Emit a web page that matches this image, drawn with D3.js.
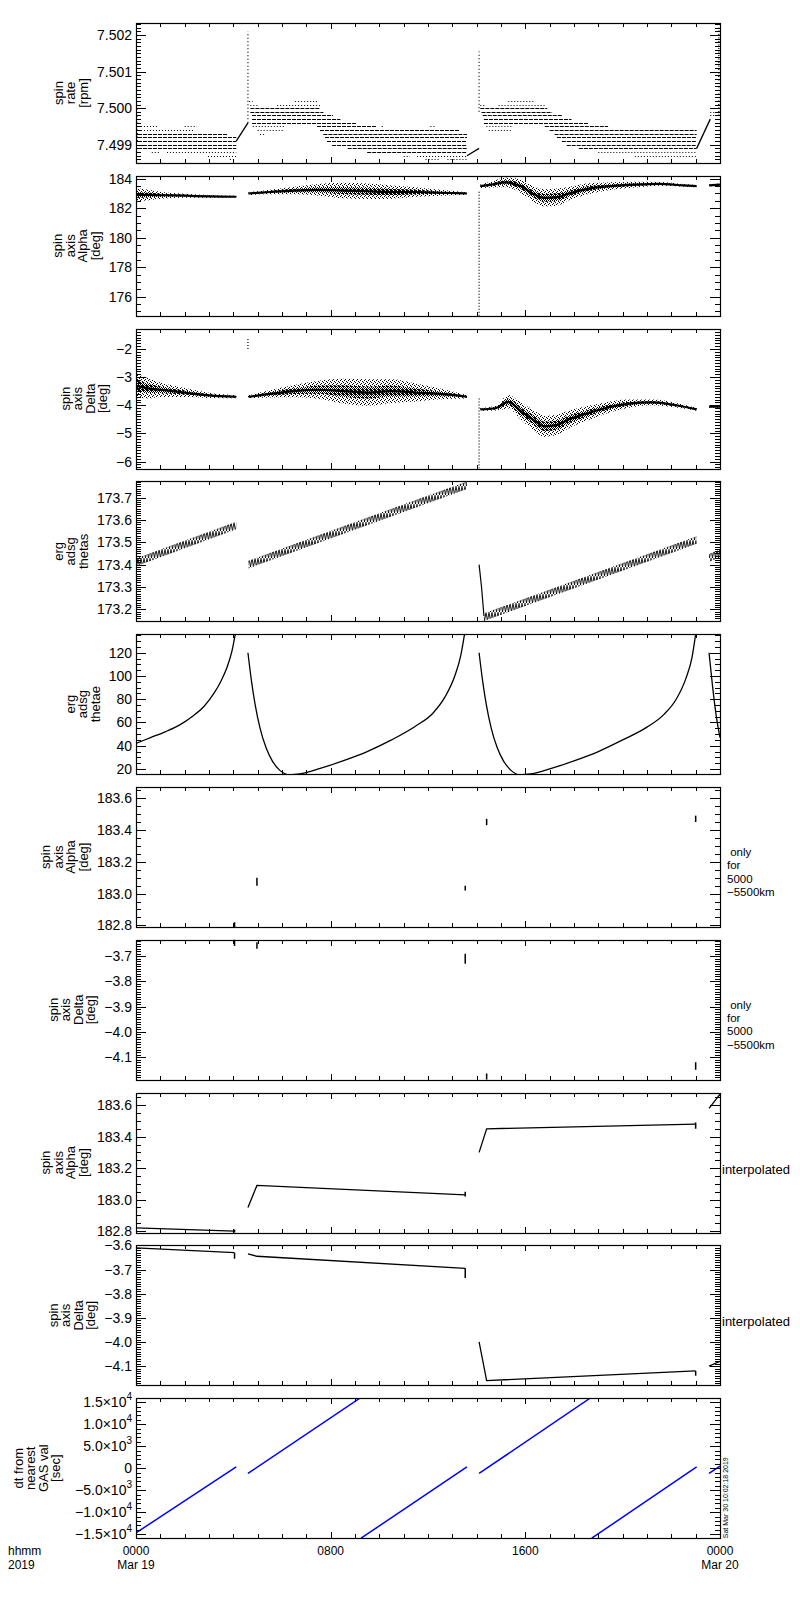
<!DOCTYPE html>
<html>
<head>
<meta charset="utf-8">
<script src="https://cdn.jsdelivr.net/npm/d3@7"></script>
<style>
body { margin: 0; background: #fff; }
text { font-family: "Liberation Sans", Arial, sans-serif; fill: #000; }
</style>
</head>
<body>
<script>
// time axis: hours from 0000 Mar 19
var timeTicks = [0, 8, 16, 24];
var timeLabels = ['0000', '0800', '1600', '0000'];
var dateLabels = ['Mar 19', '', '', 'Mar 20'];

// spin rate: quantised levels drawn as dotted runs [level, t0, t1, dense]
var rateBands = [
    [7.4995,0.08,0.9,0],[7.4995,2.0,2.5,0],[7.4994,0.08,2.4,0],[7.4993,0.08,3.75,1],
    [7.4992,0.08,4.12,1],[7.4991,0.08,4.12,1],[7.4990,0.08,4.12,1],[7.4989,0.08,4.12,1],
    [7.4988,0.65,1.0,0],[7.4988,1.27,4.12,0],[7.4987,2.96,4.12,0],[7.4986,3.86,4.03,0],
    [7.5002,6.54,7.44,0],[7.5002,4.65,4.8,0],[7.5001,5.8,7.56,0],[7.5001,4.7,5.0,0],
    [7.5000,4.7,7.56,1],[7.4999,4.7,7.7,1],[7.4998,4.77,8.1,1],[7.4997,4.77,8.4,1],[7.4996,4.77,9.08,1],
    [7.4995,4.8,6.1,0],[7.4995,7.44,9.9,1],[7.4995,10.1,10.2,0],[7.4995,12.1,12.3,0],
    [7.4994,5.0,6.1,0],[7.4994,7.56,13.3,1],[7.4993,5.1,5.3,0],[7.4993,7.7,13.6,1],
    [7.4992,7.77,13.6,1],[7.4991,7.85,13.6,1],[7.4990,8.06,13.6,1],[7.4989,8.7,13.6,1],[7.4988,9.5,13.6,1],
    [7.4987,11.0,11.26,0],[7.4987,11.55,13.6,0],[7.4986,11.9,12.5,0],[7.4986,12.8,13.6,0],
    [7.5002,15.3,16.4,0],[7.5001,14.15,14.4,0],[7.5001,14.9,16.8,0],
    [7.5000,14.15,16.9,1],[7.4999,14.2,17.1,1],[7.4998,14.25,17.5,1],[7.4997,14.3,17.9,1],[7.4996,14.3,18.6,1],
    [7.4995,14.4,15.5,0],[7.4995,16.8,19.4,1],[7.4994,14.5,15.4,0],[7.4994,17.0,23.04,1],
    [7.4993,17.2,23.04,1],[7.4992,17.3,23.04,1],[7.4991,17.5,23.04,1],[7.4990,17.7,23.04,1],
    [7.4989,18.2,23.04,1],[7.4988,19.0,23.04,0],[7.4987,20.5,23.04,0],
    [7.4998,23.6,24,0],[7.4999,23.6,24,0],[7.5000,23.7,24,0]
];
var rateRamps = [
    [[4.12,7.4991],[4.6,7.4996]],
    [[13.6,7.4987],[14.1,7.4989]],
    [[23.04,7.4989],[23.6,7.4997]]
];
// vertical dotted runs [t, v0, v1]
var rateSpikes = [[0.05,7.4991,7.5000],[4.6,7.4996,7.5021],[14.1,7.4999,7.50155],[23.95,7.4998,7.5022]];

// spin axis alpha / delta scatter: [t, centre, half spread]
var alphaSegs = [
    [[0,182.9,0.45],[0.5,182.9,0.36],[1,182.88,0.24],[2,182.85,0.14],[3,182.8,0.09],[4.12,182.78,0.06]],
    [[4.62,183.0,0.1],[5.5,183.1,0.16],[6.5,183.2,0.26],[7.5,183.25,0.4],[8.5,183.2,0.52],[9.5,183.15,0.52],
     [10.5,183.1,0.45],[11.5,183.1,0.33],[12.5,183.05,0.2],[13.6,183.0,0.08]],
    [[14.15,183.5,0.13],[14.6,183.6,0.2],[15.2,183.75,0.33],[15.8,183.5,0.45],[16.3,183.0,0.52],[16.8,182.7,0.58],
     [17.3,182.75,0.58],[17.8,183.0,0.45],[18.5,183.3,0.38],[19.5,183.5,0.26],[20.5,183.6,0.2],[21.5,183.65,0.13],
     [22.5,183.55,0.09],[23.04,183.5,0.07]],
    [[23.55,183.55,0.07],[24,183.6,0.07]]
];
var alphaDrops = [[14.1,174.7,183.2]];
var deltaSegs = [
    [[0,-3.3,0.42],[0.5,-3.4,0.36],[1,-3.45,0.26],[2,-3.55,0.16],[3,-3.65,0.09],[4.12,-3.7,0.05]],
    [[4.62,-3.7,0.05],[5.5,-3.6,0.13],[6.5,-3.5,0.22],[7.5,-3.45,0.32],[8.5,-3.5,0.44],[9.5,-3.55,0.47],
     [10.5,-3.5,0.42],[11.5,-3.55,0.32],[12.5,-3.6,0.19],[13.6,-3.7,0.06]],
    [[14.15,-4.15,0.05],[14.8,-4.1,0.09],[15.3,-3.88,0.24],[15.8,-4.2,0.3],[16.3,-4.5,0.36],[16.8,-4.75,0.37],
     [17.3,-4.7,0.36],[17.8,-4.5,0.31],[18.5,-4.3,0.26],[19.3,-4.1,0.2],[20.2,-3.95,0.15],[21.2,-3.9,0.1],
     [22.2,-4.0,0.08],[23.04,-4.15,0.05]],
    [[23.55,-4.05,0.04],[24,-4.05,0.04]]
];
var deltaDrops = [[14.1,-6.25,-3.7],[4.6,-2.0,-1.6]];

// erg adsg thetas (centre of the zigzag band) and thetae
var thetasSegs = [
    [[0,173.41],[4.12,173.575]],
    [[4.62,173.40],[13.6,173.755]],
    [[14.3,173.165],[23.04,173.51]],
    [[23.55,173.43],[24,173.45]]
];
var thetasDrop = [[14.1,173.40],[14.2,173.3],[14.3,173.17]];
var thetaeSegs = [
    [[0,42],[0.6,47],[1.2,52],[1.8,58],[2.3,65],[2.8,74],[3.2,85],[3.5,96],[3.75,108],[3.95,122],[4.08,136]],
    [[4.6,120],[4.75,95],[4.9,75],[5.1,55],[5.35,38],[5.6,27],[5.9,19],[6.3,15],[6.8,16],[7.5,20],[8.5,27],
     [9.5,35],[10.5,45],[11.5,57],[12.2,68],[12.7,82],[13.1,100],[13.35,118],[13.5,136]],
    [[14.1,120],[14.25,95],[14.4,75],[14.6,55],[14.85,38],[15.1,27],[15.4,19],[15.75,15],[16.3,16],[17,20],
     [18,27],[19,35],[20,45],[21,56],[21.7,67],[22.2,80],[22.6,98],[22.85,116],[23.0,136]],
    [[23.55,120],[23.7,90],[23.85,65],[24,47]]
];

// values only for 5000-5500 km: short vertical runs [t, v0, v1]
var alphaOnly = [[4.05,182.79,182.82],[4.97,183.05,183.10],[13.53,183.02,183.05],[14.41,183.43,183.47],[23.0,183.45,183.49]];
var deltaOnly = [[4.05,-3.63,-3.66],[4.97,-3.645,-3.67],[13.53,-3.69,-3.73],[14.41,-4.165,-4.19],[23.0,-4.12,-4.15]];

// interpolated
var alphaIntLines = [
    [[0,182.82],[4.05,182.80]],
    [[4.6,182.95],[4.97,183.09],[13.53,183.03]],
    [[14.1,183.30],[14.41,183.45],[23.0,183.48]],
    [[23.55,183.58],[24,183.67]]
];
var alphaIntMarks = [[4.05,182.78,182.81],[13.53,183.02,183.05],[23.0,183.45,183.49]];
var deltaIntLines = [
    [[0,-3.61],[4.05,-3.63]],
    [[4.6,-3.635],[4.97,-3.645],[13.53,-3.695]],
    [[14.1,-4.0],[14.41,-4.16],[23.0,-4.12]],
    [[23.55,-4.10],[24,-4.08]]
];
var deltaIntMarks = [[4.05,-3.63,-3.655],[13.53,-3.695,-3.735],[23.0,-4.12,-4.14]];

// dt from nearest GAS value [sec]
var dtSegs = [
    [[0,-14700],[4.12,300]],
    [[4.6,-1200],[9.2,15900]],
    [[9.25,-15900],[13.6,300]],
    [[14.1,-1200],[18.66,15900]],
    [[18.73,-15900],[23.04,300]],
    [[23.55,-1200],[24,500]]
];

var stamp = 'Sat Mar 30 10:02:18 2019';

var sciFmt = function(v){
    if (v === 0) return ['0', ''];
    var e = Math.floor(Math.log10(Math.abs(v)) + 1e-9);
    var m = Math.abs(v) / Math.pow(10, e);
    return [(v < 0 ? '\u2212' : '') + m.toFixed(1) + '\u00d710', String(e)];
};
var fmtMinus = function(f){ return function(v){ return [d3.format(f)(v), '']; }; };

var panels = [
    {key:'rate', title:['spin','rate','[rpm]'], domain:[7.4985,7.50233], major:0.001, minor:0.0001, fmt:fmtMinus('.3f')},
    {key:'alpha', title:['spin','axis','Alpha','[deg]'], domain:[174.7,184.2], major:2, minor:0.5, fmt:fmtMinus('d')},
    {key:'delta', title:['spin','axis','Delta','[deg]'], domain:[-6.25,-1.28], major:1, minor:0.1, fmt:fmtMinus('d')},
    {key:'thetas', title:['erg','adsg','thetas'], domain:[173.146,173.772], major:0.1, minor:0.01, fmt:fmtMinus('.1f')},
    {key:'thetae', title:['erg','adsg','thetae'], domain:[15.5,136], major:20, minor:5, fmt:fmtMinus('d')},
    {key:'alphaOnly', title:['spin','axis','Alpha','[deg]'], domain:[182.79,183.67], major:0.2, minor:0.05, fmt:fmtMinus('.1f'), note:[' only','for','5000','\u22125500km']},
    {key:'deltaOnly', title:['spin','axis','Delta','[deg]'], domain:[-4.19,-3.635], major:0.1, minor:0.01, fmt:fmtMinus('.1f'), note:[' only','for','5000','\u22125500km']},
    {key:'alphaInt', title:['spin','axis','Alpha','[deg]'], domain:[182.79,183.68], major:0.2, minor:0.05, fmt:fmtMinus('.1f'), note:['interpolated']},
    {key:'deltaInt', title:['spin','axis','Delta','[deg]'], domain:[-4.18,-3.60], major:0.1, minor:0.01, fmt:fmtMinus('.1f'), note:['interpolated']},
    {key:'dt', title:['dt from','nearest','GAS val','[sec]'], domain:[-15900,15900], major:5000, minor:1000, fmt:sciFmt, shift:-6}
];

var W = 800, H = 1600, L = 136, R = 720, TOP = 23, PH = 140, STEP = 152.8;

var svg = d3.select('body').append('svg').attr('width', W).attr('height', H);
svg.append('rect').attr('width', W).attr('height', H).attr('fill', '#fff');
var defs = svg.append('defs');

var light = defs.append('pattern').attr('id', 'speckLight').attr('patternUnits', 'userSpaceOnUse')
    .attr('width', 4).attr('height', 4);
[[0,0],[2,1],[1,3],[3,2]].forEach(function(p){
    light.append('rect').attr('x', p[0]).attr('y', p[1]).attr('width', 1).attr('height', 1).attr('fill', '#000');
});
var dark = defs.append('pattern').attr('id', 'speckDark').attr('patternUnits', 'userSpaceOnUse')
    .attr('width', 2).attr('height', 2);
[[0,0],[1,1]].forEach(function(p){
    dark.append('rect').attr('x', p[0]).attr('y', p[1]).attr('width', 1).attr('height', 1).attr('fill', '#000');
});
defs.append('pattern').attr('id', 'hatch').attr('patternUnits', 'userSpaceOnUse')
    .attr('width', 3).attr('height', 9)
    .append('path').attr('d', 'M0,0L1.5,9L3,0').attr('fill', 'none').attr('stroke', '#000').attr('stroke-width', 0.9);

var x = d3.scaleLinear().domain([0, 24]).range([L, R]);

function tickValues(lo, hi, step){
    var out = [];
    for (var k = Math.ceil(lo / step - 1e-6); k <= Math.floor(hi / step + 1e-6); k++) out.push(+(k * step).toFixed(6));
    return out;
}

panels.forEach(function(p, i){
    var top = TOP + i * STEP, bot = top + PH;
    var y = d3.scaleLinear().domain(p.domain).range([bot, top]);
    var g = svg.append('g');

    defs.append('clipPath').attr('id', 'clip' + i).append('rect')
        .attr('x', L).attr('y', top).attr('width', R - L).attr('height', PH);
    var d = g.append('g').attr('clip-path', 'url(#clip' + i + ')');

    var line = d3.line().x(function(v){ return x(v[0]); }).y(function(v){ return y(v[1]); });
    var vruns = function(list, dash, width, color){
        d.selectAll(null).data(list).enter().append('line')
            .attr('x1', function(v){ return x(v[0]); }).attr('x2', function(v){ return x(v[0]); })
            .attr('y1', function(v){ return y(v[1]); }).attr('y2', function(v){ return y(v[2]); })
            .attr('stroke', color || '#000').attr('stroke-width', width).attr('stroke-dasharray', dash);
    };
    var lines = function(list, width, color){
        d.selectAll(null).data(list).enter().append('path')
            .attr('d', line).attr('fill', 'none').attr('stroke', color || '#000').attr('stroke-width', width);
    };
    var cloud = function(segs){
        segs.forEach(function(s){
            var outer = d3.area().curve(d3.curveMonotoneX).x(function(v){ return x(v[0]); })
                .y0(function(v){ return y(v[1] - v[2]); }).y1(function(v){ return y(v[1] + v[2]); });
            var inner = d3.area().curve(d3.curveMonotoneX).x(function(v){ return x(v[0]); })
                .y0(function(v){ return y(v[1] - v[2] * 0.45); }).y1(function(v){ return y(v[1] + v[2] * 0.45); });
            d.append('path').attr('d', outer(s)).attr('fill', 'url(#speckLight)');
            d.append('path').attr('d', inner(s)).attr('fill', 'url(#speckDark)');
            d.append('path').attr('d', d3.line().curve(d3.curveMonotoneX)
                .x(function(v){ return x(v[0]); }).y(function(v){ return y(v[1]); })(s))
                .attr('fill', 'none').attr('stroke', '#000').attr('stroke-width', 2.2);
        });
    };

    if (p.key === 'rate'){
        d.selectAll(null).data(rateBands).enter().append('line')
            .attr('x1', function(b){ return x(b[1]); }).attr('x2', function(b){ return x(b[2]); })
            .attr('y1', function(b){ return Math.round(y(b[0])) + 0.5; })
            .attr('y2', function(b){ return Math.round(y(b[0])) + 0.5; })
            .attr('stroke', '#000').attr('stroke-width', 1)
            .attr('stroke-dasharray', function(b){ return b[3] ? '4,1' : '1,2'; });
        lines(rateRamps, 1.3);
        vruns(rateSpikes, '1,2.5', 1.2);
    } else if (p.key === 'alpha'){
        cloud(alphaSegs);
        vruns(alphaDrops, '1,2', 1.2);
    } else if (p.key === 'delta'){
        cloud(deltaSegs);
        vruns(deltaDrops, '1,2', 1.2);
    } else if (p.key === 'thetas'){
        var band = d3.area().x(function(v){ return x(v[0]); })
            .y0(function(v){ return y(v[1] - 0.017); }).y1(function(v){ return y(v[1] + 0.017); });
        thetasSegs.forEach(function(s){
            d.append('path').attr('d', band(s)).attr('fill', 'url(#hatch)');
        });
        lines([thetasDrop], 1.2);
    } else if (p.key === 'thetae'){
        d.selectAll(null).data(thetaeSegs).enter().append('path')
            .attr('d', d3.line().curve(d3.curveMonotoneX).x(function(v){ return x(v[0]); }).y(function(v){ return y(v[1]); }))
            .attr('fill', 'none').attr('stroke', '#000').attr('stroke-width', 1.3);
    } else if (p.key === 'alphaOnly'){
        vruns(alphaOnly, null, 1.5);
    } else if (p.key === 'deltaOnly'){
        vruns(deltaOnly, null, 1.5);
    } else if (p.key === 'alphaInt'){
        lines(alphaIntLines, 1.3);
        vruns(alphaIntMarks, null, 1.5);
    } else if (p.key === 'deltaInt'){
        lines(deltaIntLines, 1.3);
        vruns(deltaIntMarks, null, 1.5);
    } else if (p.key === 'dt'){
        lines(dtSegs, 1.5, '#0000ff');
    }

    // frame and ticks
    g.append('rect').attr('x', L + 0.5).attr('y', Math.round(top) + 0.5)
        .attr('width', R - L).attr('height', PH)
        .attr('fill', 'none').attr('stroke', '#000').attr('stroke-width', 1.2);

    var tk = g.append('g').attr('stroke', '#000').attr('stroke-width', 1).attr('shape-rendering', 'crispEdges');
    var majors = tickValues(p.domain[0], p.domain[1], p.major);
    var minors = tickValues(p.domain[0], p.domain[1], p.minor);
    minors.forEach(function(v){
        var len = majors.some(function(m){ return Math.abs(m - v) < p.minor / 10; }) ? 10 : 5;
        var yy = Math.round(y(v)) + 0.5;
        tk.append('line').attr('x1', L).attr('x2', L + len).attr('y1', yy).attr('y2', yy);
        tk.append('line').attr('x1', R).attr('x2', R - len).attr('y1', yy).attr('y2', yy);
    });
    d3.range(0, 25).forEach(function(h){
        var len = h % 8 === 0 ? 6 : 4;
        var xx = Math.round(x(h)) + 0.5;
        tk.append('line').attr('x1', xx).attr('x2', xx).attr('y1', top).attr('y2', top + len);
        tk.append('line').attr('x1', xx).attr('x2', xx).attr('y1', bot).attr('y2', bot - len);
    });

    var labs = g.append('g').attr('font-size', 14).attr('text-anchor', 'end');
    majors.forEach(function(v){
        var parts = p.fmt(v);
        var t = labs.append('text').attr('x', L - 4).attr('y', y(v) + 5);
        t.append('tspan').text(parts[0]);
        if (parts[1]) t.append('tspan').attr('dy', -7).attr('font-size', 10).text(parts[1]);
    });
    var minX = labs.node().getBBox().x + (p.shift || 0);

    var mid = top + PH / 2;
    var n = p.title.length, gap = 12.5;
    var title = g.append('text').attr('font-size', 13).attr('text-anchor', 'middle')
        .attr('transform', 'translate(' + (minX - 9 - (n - 1) * gap) + ',' + mid + ') rotate(-90)');
    p.title.forEach(function(s, k){
        title.append('tspan').attr('x', 0).attr('dy', k === 0 ? 0 : gap).text(s);
    });

    if (p.note){
        var y0 = p.note.length > 1 ? mid - 1 : mid + 11;
        p.note.forEach(function(s, k){
            g.append('text').attr('font-size', p.note.length > 1 ? 11.5 : 13)
                .attr('x', p.note.length > 1 ? 727 : 722).attr('y', y0 + k * 13.3)
                .attr('xml:space', 'preserve').text(s);
        });
    }
});

// time labels under the last panel
var axisY = TOP + 9 * STEP + PH;
var tl = svg.append('g').attr('font-size', 12).attr('text-anchor', 'middle');
timeTicks.forEach(function(h, k){
    tl.append('text').attr('x', x(h)).attr('y', axisY + 17).text(timeLabels[k]);
    if (dateLabels[k]) tl.append('text').attr('x', x(h)).attr('y', axisY + 31).text(dateLabels[k]);
});
svg.append('text').attr('x', 8).attr('y', axisY + 17).attr('font-size', 12).text('hhmm');
svg.append('text').attr('x', 8).attr('y', axisY + 31).attr('font-size', 12).text('2019');

svg.append('text').attr('font-size', 7).attr('font-family', 'DejaVu Sans Mono')
    .attr('transform', 'translate(728,' + axisY + ') rotate(-90)').text(stamp);
</script>
</body>
</html>
